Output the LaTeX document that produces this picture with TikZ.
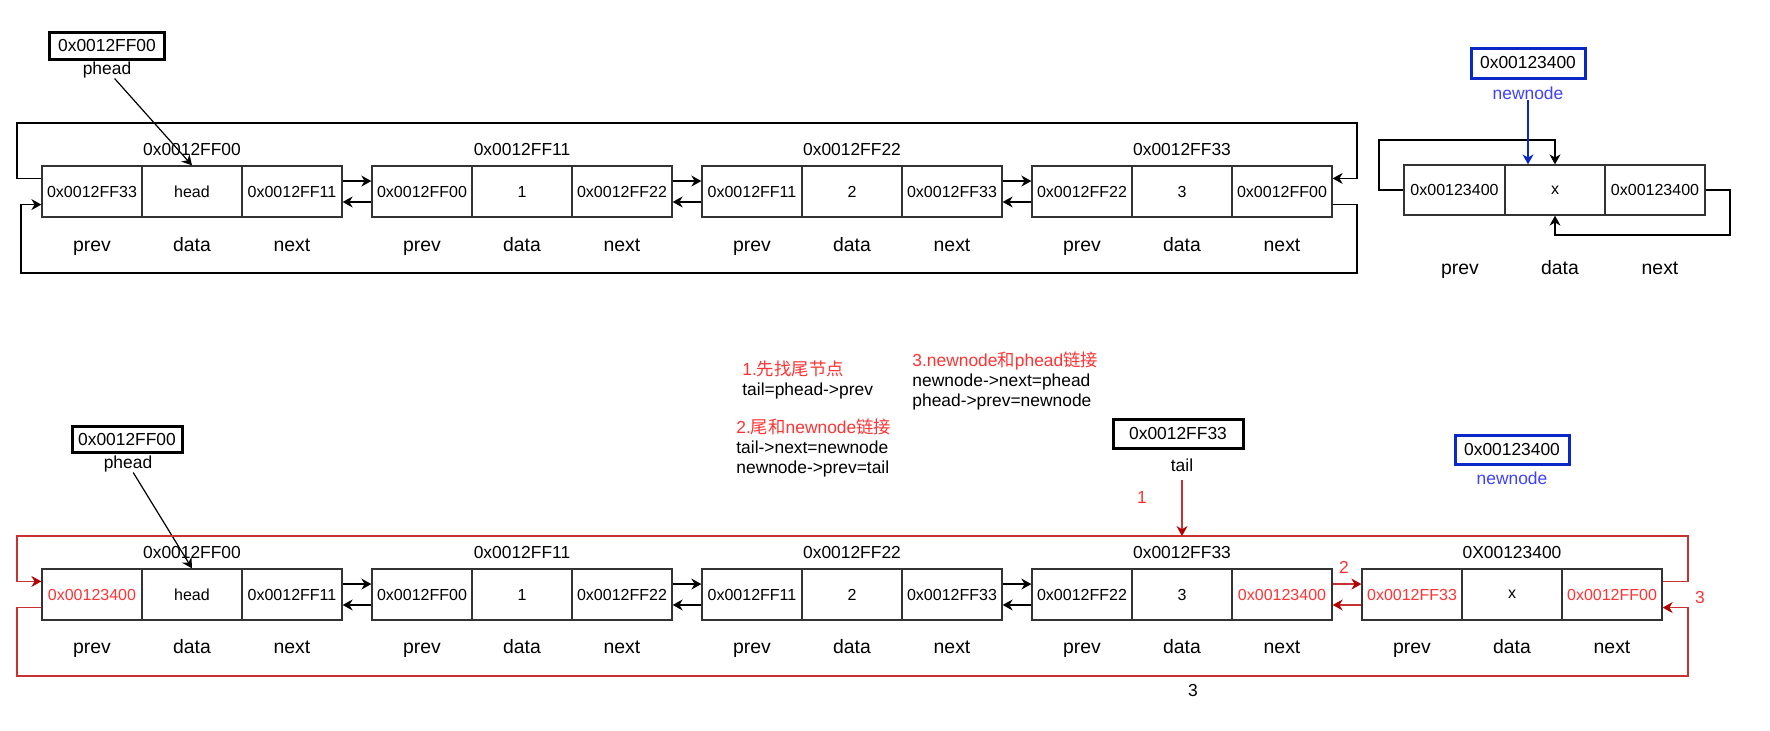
\documentclass[tikz,border=0pt]{standalone}
\usepackage{fontspec}
\setmainfont{Liberation Sans}
\newfontfamily\cjk{Noto Sans CJK SC}
\usetikzlibrary{calc,arrows.meta}
\definecolor{cellc}{HTML}{333333}
\definecolor{redline}{HTML}{C83232}
\definecolor{redtip}{HTML}{B20000}
\definecolor{redtxt}{HTML}{FF3333}
\definecolor{bluebox}{HTML}{0A28C8}
\definecolor{bluetxt}{HTML}{4040FF}
\newcommand{\dll}[8]{%
  \node[cell] (#1p) at ({#2+50},{#3+25.5}) {#4};
  \node[cell] (#1d) at ({#2+150},{#3+25.5}) {#5};
  \node[cell] (#1n) at ({#2+250},{#3+25.5}) {#6};
  \node[ttl] (#1t) at ({#2+150},{#3-16.5}) {#7};
  \node[lbl] (#1lp) at ({#2+50},{#8+2}) {prev};
  \node[lbl] (#1ld) at ({#2+150},{#8+2}) {data};
  \node[lbl] (#1ln) at ({#2+250},{#8+2}) {next};
}
\newcommand{\dlink}[3]{%
  \draw[#3] ($(#1.north east)!0.3!(#1.south east)$) -- ($(#2.north west)!0.3!(#2.south west)$);
  \draw[#3] ($(#2.north west)!0.7!(#2.south west)$) -- ($(#1.north east)!0.7!(#1.south east)$);
}
\begin{document}
\begin{tikzpicture}[x=0.5pt,y=-0.5pt,
  cell/.style={draw=cellc, line width=0.65pt, minimum width=50pt, minimum height=25.5pt, inner sep=0pt, font=\fontsize{8}{9}\selectfont},
  ttl/.style={inner sep=0pt, font=\fontsize{8.7}{10}\selectfont},
  lbl/.style={inner sep=0pt, text height=7pt, text depth=2pt, font=\fontsize{9.7}{11}\selectfont},
  ptrbox/.style={draw=black, line width=1.5pt, inner sep=0pt, font=\fontsize{8.7}{10}\selectfont},
  txt/.style={inner sep=0pt, align=left, font=\fontsize{8.7}{10}\selectfont},
  arr/.style={draw=black, line width=0.6pt, -{Stealth[length=5pt,width=5.5pt]}},
  redarr/.style={draw=redline, line width=0.6pt, -{Stealth[length=5pt,width=5.5pt,color=redtip]}},
  bluearr/.style={draw=bluebox, line width=0.6pt, -{Stealth[length=5pt,width=5.5pt]}}
]
\useasboundingbox (0,0) rectangle (1770,730);

% ---------------- top part ----------------
\node[ptrbox, minimum width=57.5pt, minimum height=13.5pt] (phA) at (107,45.5) {0x0012FF00};
\node[ttl] (phAl) at (107,70) {phead};

\dll{ta}{42}{166}{0x0012FF33}{head}{0x0012FF11}{0x0012FF00}{244}
\dll{tb}{372}{166}{0x0012FF00}{1}{0x0012FF22}{0x0012FF11}{244}
\dll{tc}{702}{166}{0x0012FF11}{2}{0x0012FF33}{0x0012FF22}{244}
\dll{td}{1032}{166}{0x0012FF22}{3}{0x0012FF00}{0x0012FF33}{244}

\draw[arr] (phAl) -- (tad.north);
\dlink{tan}{tbp}{arr}
\dlink{tbn}{tcp}{arr}
\dlink{tcn}{tdp}{arr}

\coordinate (TL) at (17,123);
\coordinate (TR) at (1357,123);
\coordinate (BL) at (21,273);
\coordinate (BR) at (1357,273);
\draw[arr] ($(tap.north west)!0.25!(tap.south west)$) -| (TL) -- (TR) |- ($(tdn.north east)!0.25!(tdn.south east)$);
\draw[arr] ($(tdn.north east)!0.75!(tdn.south east)$) -| (BR) -- (BL) |- ($(tap.north west)!0.75!(tap.south west)$);

% new node (top right)
\node[ptrbox, draw=bluebox, minimum width=57pt, minimum height=15pt] (nnA) at (1528,63) {0x00123400};
\node[ttl, text=bluetxt] (nnAl) at (1528,93) {newnode};
\node[cell, minimum width=50.5pt, minimum height=25pt] (nap) at (1454.5,190) {0x00123400};
\node[cell, minimum width=50pt, minimum height=25pt] (nad) at (1555,190) {x};
\node[cell, minimum width=50pt, minimum height=25pt] (nan) at (1655,190) {0x00123400};
\node[lbl] (nalp) at (1460,269) {prev};
\node[lbl] (nald) at (1560,269) {data};
\node[lbl] (naln) at (1660,269) {next};
\coordinate (NL) at (1379,140);
\coordinate (NR) at (1730,235);
\draw[arr] (nap.west) -| (NL) -| (nad.north);
\draw[arr] (nan.east) -| (NR) -| (nad.south);
\draw[bluearr] (nnAl) -- (nnAl |- nad.north);

% ---------------- bottom part ----------------
\node[ptrbox, minimum width=55pt, minimum height=13pt] (phB) at (127,439) {0x0012FF00};
\node[ttl] (phBl) at (128,464) {phead};

\node[txt, anchor=west] (s1) at (742,380) {\textcolor{redtxt}{1.{\cjk 先找尾节点}}\\tail=phead->prev};
\node[txt, anchor=west] (s2) at (736,448) {\textcolor{redtxt}{2.{\cjk 尾和}newnode{\cjk 链接}}\\tail->next=newnode\\newnode->prev=tail};
\node[txt, anchor=west] (s3) at (912,381) {\textcolor{redtxt}{3.newnode{\cjk 和}phead{\cjk 链接}}\\newnode->next=phead\\phead->prev=newnode};

\node[ptrbox, minimum width=65pt, minimum height=14.5pt] (tlB) at (1178,433.5) {0x0012FF33};
\node[ttl] (tlBl) at (1182,465) {tail};
\node[ttl, text=redtxt] (r1) at (1142,497) {1};

\node[ptrbox, draw=bluebox, minimum width=57pt, minimum height=14.5pt] (nnB) at (1512,449.5) {0x00123400};
\node[ttl, text=bluetxt] (nnBl) at (1512,478) {newnode};

\dll{ba}{42}{569}{\textcolor{redtxt}{0x00123400}}{head}{0x0012FF11}{0x0012FF00}{646}
\dll{bb}{372}{569}{0x0012FF00}{1}{0x0012FF22}{0x0012FF11}{646}
\dll{bc}{702}{569}{0x0012FF11}{2}{0x0012FF33}{0x0012FF22}{646}
\dll{bd}{1032}{569}{0x0012FF22}{3}{\textcolor{redtxt}{0x00123400}}{0x0012FF33}{646}
\dll{be}{1362}{569}{\textcolor{redtxt}{0x0012FF33}}{x}{\textcolor{redtxt}{0x0012FF00}}{0X00123400}{646}

\draw[arr] (phBl) -- (bad.north);
\dlink{ban}{bbp}{arr}
\dlink{bbn}{bcp}{arr}
\dlink{bcn}{bdp}{arr}
\dlink{bdn}{bep}{redarr}

\coordinate (RTL) at (17,536);
\coordinate (RTR) at (1688,536);
\coordinate (RBL) at (17,676);
\coordinate (RBR) at (1688,676);
\draw[redarr] ($(ben.north east)!0.25!(ben.south east)$) -| (RTR) -- (RTL) |- ($(bap.north west)!0.25!(bap.south west)$);
\draw[redarr] ($(bap.north west)!0.75!(bap.south west)$) -| (RBL) -- (RBR) |- ($(ben.north east)!0.75!(ben.south east)$);

\coordinate (tailhit) at (1182,536);
\draw[redarr, shorten <=4pt] (tlBl) -- (tailhit);

\node[ttl, text=redtxt] (r2) at (1344,567) {2};
\node[ttl, text=redtxt] (r3) at (1700,597) {3};
\node[ttl] (k3) at (1193,690) {3};
\end{tikzpicture}
\end{document}
